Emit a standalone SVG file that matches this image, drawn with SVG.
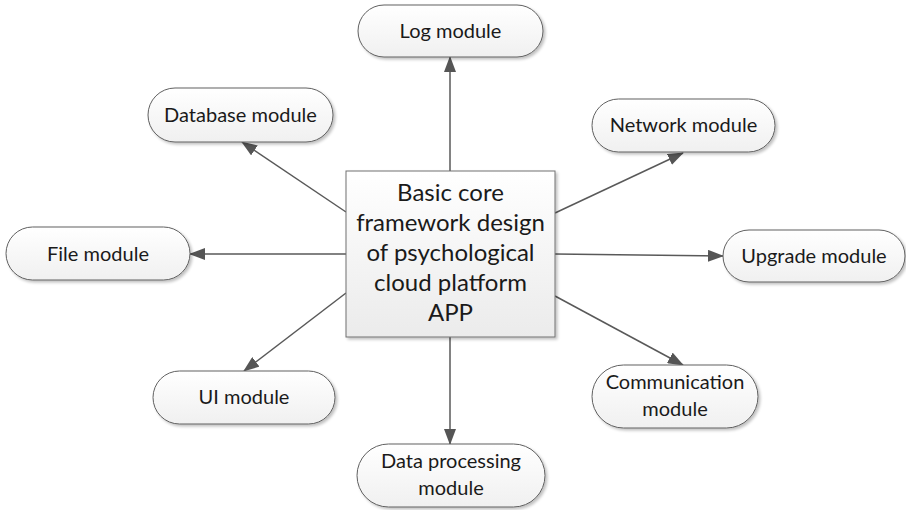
<svg xmlns="http://www.w3.org/2000/svg" width="906" height="510" viewBox="0 0 906 510">
<defs>
<linearGradient id="pillGrad" x1="0" y1="0" x2="0" y2="1">
<stop offset="0" stop-color="#ffffff"/>
<stop offset="1" stop-color="#f0f0f0"/>
</linearGradient>
<linearGradient id="boxGrad" x1="0" y1="0" x2="0" y2="1">
<stop offset="0" stop-color="#ffffff"/>
<stop offset="1" stop-color="#ebebeb"/>
</linearGradient>
<filter id="shadow" x="-10%" y="-10%" width="130%" height="140%">
<feGaussianBlur in="SourceAlpha" stdDeviation="1.5"/>
<feOffset dx="2" dy="2" result="b"/>
<feComponentTransfer><feFuncA type="linear" slope="0.25"/></feComponentTransfer>
<feMerge><feMergeNode/><feMergeNode in="SourceGraphic"/></feMerge>
</filter>
<marker id="arrow" markerWidth="16" markerHeight="12" refX="15" refY="6" orient="auto" markerUnits="userSpaceOnUse">
<path d="M0,0 L16,6 L0,12 Z" fill="#555555"/>
</marker>
</defs>
<style>
.pill { fill: url(#pillGrad); stroke: #606060; stroke-width: 1; filter: url(#shadow); }
.box { fill: url(#boxGrad); stroke: #707070; stroke-width: 1; filter: url(#shadow); }
.lbl { font-family: Lato, "Liberation Sans", sans-serif; font-size: 20px; fill: #1a1a1a; text-anchor: middle; }
.core { font-family: Lato, "Liberation Sans", sans-serif; font-size: 24px; fill: #1a1a1a; text-anchor: middle; }
.edge { stroke: #595959; stroke-width: 1.5; fill: none; marker-end: url(#arrow); }
</style>
<rect width="906" height="510" fill="#ffffff"/>
<g id="connectors">
<line class="edge" x1="450" y1="171" x2="450" y2="57"/>
<line class="edge" x1="346" y1="212" x2="242" y2="142"/>
<line class="edge" x1="555" y1="213" x2="683" y2="153"/>
<line class="edge" x1="346" y1="254" x2="190" y2="254"/>
<line class="edge" x1="555" y1="254" x2="723" y2="256"/>
<line class="edge" x1="346" y1="293" x2="244" y2="371"/>
<line class="edge" x1="555" y1="296" x2="683" y2="365"/>
<line class="edge" x1="450" y1="337" x2="450" y2="444"/>
</g>
<g id="core">
<rect class="box" x="346" y="171" width="209" height="166"/>
<text class="core" x="450.5" y="201">Basic core</text>
<text class="core" x="450.5" y="231">framework design</text>
<text class="core" x="450.5" y="261">of psychological</text>
<text class="core" x="450.5" y="291">cloud platform</text>
<text class="core" x="450.5" y="321">APP</text>
</g>
<g id="log">
<rect class="pill" x="358" y="5" width="185" height="52" rx="26"/>
<text class="lbl" x="450.5" y="38">Log module</text>
</g>
<g id="database">
<rect class="pill" x="148" y="88" width="185" height="54" rx="27"/>
<text class="lbl" x="240.5" y="122">Database module</text>
</g>
<g id="network">
<rect class="pill" x="592" y="99" width="183" height="53" rx="26.5"/>
<text class="lbl" x="683.5" y="132">Network module</text>
</g>
<g id="file">
<rect class="pill" x="6" y="227" width="184" height="53" rx="26.5"/>
<text class="lbl" x="98" y="261">File module</text>
</g>
<g id="upgrade">
<rect class="pill" x="723" y="230" width="182" height="52" rx="26"/>
<text class="lbl" x="814" y="263">Upgrade module</text>
</g>
<g id="ui">
<rect class="pill" x="153" y="371" width="182" height="53" rx="26.5"/>
<text class="lbl" x="244" y="404">UI module</text>
</g>
<g id="communication">
<rect class="pill" x="592" y="365" width="166" height="63" rx="31.5"/>
<text class="lbl" x="675" y="389">Communication</text>
<text class="lbl" x="675" y="416">module</text>
</g>
<g id="dataprocessing">
<rect class="pill" x="357" y="444" width="188" height="63" rx="31.5"/>
<text class="lbl" x="451" y="468">Data processing</text>
<text class="lbl" x="451" y="495">module</text>
</g>
</svg>
